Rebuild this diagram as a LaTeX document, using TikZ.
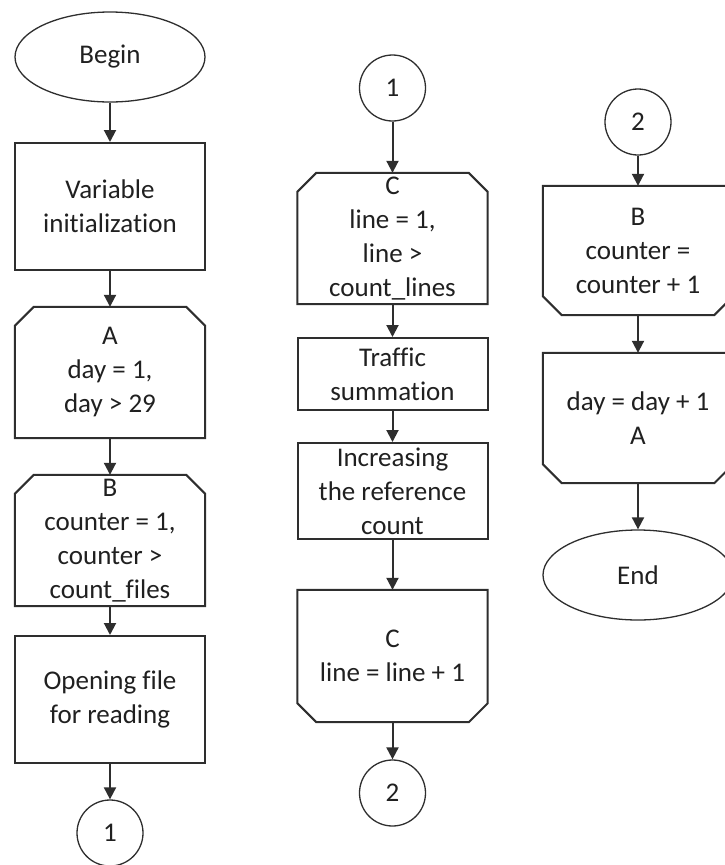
\documentclass[tikz,border=0pt]{standalone}
\usepackage{fontspec}
\setmainfont{Carlito}[Ligatures=NoCommon]
\usetikzlibrary{arrows.meta,shapes.geometric}
\definecolor{ln}{HTML}{2E2E2E}
\definecolor{txt}{HTML}{202020}
\newcommand{\LoopTop}[1]{\draw[lline] ([xshift=19pt]#1.north west) -- ([xshift=-19pt]#1.north east) -- ([yshift=-19pt]#1.north east) -- (#1.south east) -- (#1.south west) -- ([yshift=-19pt]#1.north west) -- cycle;}
\newcommand{\LoopBot}[1]{\draw[lline] (#1.north west) -- (#1.north east) -- ([yshift=19pt]#1.south east) -- ([xshift=-19pt]#1.south east) -- ([xshift=19pt]#1.south west) -- ([yshift=19pt]#1.south west) -- cycle;}
\begin{document}
\begin{tikzpicture}[x=1pt,y=-1pt,
  every node/.style={font=\fontsize{27}{34}\selectfont, text=txt, align=center},
  term/.style={ellipse, draw=ln, line width=1.3pt, minimum width=190pt, minimum height=90pt, inner sep=0pt},
  conn/.style={circle, draw=ln, line width=1.3pt, minimum size=66pt, inner sep=0pt},
  proc/.style={rectangle, draw=ln, line width=2pt, minimum width=190pt, inner sep=0pt},
  lbox/.style={rectangle, minimum width=190pt, inner sep=0pt},
  lline/.style={draw=ln, line width=2pt, line join=miter},
  arr/.style={-{Triangle[width=12pt,length=12pt]}, draw=ln, line width=2pt}
]
\useasboundingbox (0,0) rectangle (725,865);
% column 1
\node[term] (begin) at (110,57) {Begin};
\node[proc, minimum height=127pt] (vinit) at (110,206.5) {Variable\\initialization};
\node[lbox, minimum height=131pt] (A) at (110,372.5) {A\\day = 1,\\day > 29};
\node[lbox, minimum height=131pt] (B) at (110,540.5) {B\\counter = 1,\\counter >\\count\_files};
\node[proc, minimum height=127pt] (open) at (110,699.5) {Opening file\\for reading};
\node[conn] (c1a) at (110,833) {1};
\LoopTop{A}
\LoopTop{B}
% column 2
\node[conn] (c1b) at (392.5,88) {1};
\node[lbox, minimum height=131pt] (C) at (392.5,238.5) {C\\line = 1,\\line >\\count\_lines};
\node[proc, minimum height=72pt] (traffic) at (392.5,374) {Traffic\\summation};
\node[proc, minimum height=96pt] (incr) at (392.5,491) {Increasing\\the reference\\count};
\node[lbox, minimum height=132pt] (Cend) at (392.5,656) {C\\line = line + 1};
\node[conn] (c2a) at (392.5,793) {2};
\LoopTop{C}
\LoopBot{Cend}
% column 3
\node[conn] (c2b) at (638,122) {2};
\node[lbox, minimum height=129pt] (Bend) at (638,250.5) {B\\counter =\\counter + 1};
\node[lbox, minimum height=130pt] (Aend) at (638,418) {day = day + 1\\A};
\node[term] (end) at (638,575) {End};
\LoopBot{Bend}
\LoopBot{Aend}
% arrows
\draw[arr] (begin) -- (vinit);
\draw[arr] (vinit) -- (A);
\draw[arr] (A) -- (B);
\draw[arr] (B) -- (open);
\draw[arr] (open) -- (c1a);
\draw[arr] (c1b) -- (C);
\draw[arr] (C) -- (traffic);
\draw[arr] (traffic) -- (incr);
\draw[arr] (incr) -- (Cend);
\draw[arr] (Cend) -- (c2a);
\draw[arr] (c2b) -- (Bend);
\draw[arr] (Bend) -- (Aend);
\draw[arr] (Aend) -- (end);
\end{tikzpicture}
\end{document}
